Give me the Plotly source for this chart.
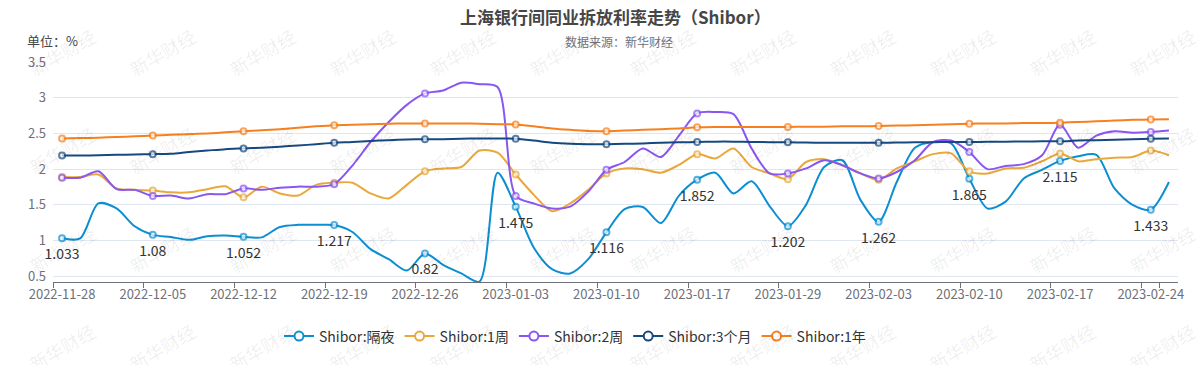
import plotly.graph_objects as go

dates = [
    "2022-11-28", "2022-11-29", "2022-11-30", "2022-12-01", "2022-12-02",
    "2022-12-05", "2022-12-06", "2022-12-07", "2022-12-08", "2022-12-09",
    "2022-12-12", "2022-12-13", "2022-12-14", "2022-12-15", "2022-12-16",
    "2022-12-19", "2022-12-20", "2022-12-21", "2022-12-22", "2022-12-23",
    "2022-12-26", "2022-12-27", "2022-12-28", "2022-12-29", "2022-12-30",
    "2023-01-03", "2023-01-04", "2023-01-05", "2023-01-06", "2023-01-09",
    "2023-01-10", "2023-01-11", "2023-01-12", "2023-01-13", "2023-01-16",
    "2023-01-17", "2023-01-18", "2023-01-19", "2023-01-20", "2023-01-28",
    "2023-01-29", "2023-01-30", "2023-01-31", "2023-02-01", "2023-02-02",
    "2023-02-03", "2023-02-06", "2023-02-07", "2023-02-08", "2023-02-09",
    "2023-02-10", "2023-02-13", "2023-02-14", "2023-02-15", "2023-02-16",
    "2023-02-17", "2023-02-20", "2023-02-21", "2023-02-22", "2023-02-23",
    "2023-02-24", "2023-02-27",
]

overnight = [
    1.033, 1.03, 1.52, 1.45, 1.20, 1.08, 1.05, 1.01, 1.06, 1.07,
    1.052, 1.045, 1.19, 1.22, 1.22, 1.217, 1.12, 0.88, 0.74, 0.58,
    0.82, 0.66, 0.54, 0.425, 1.95, 1.475, 0.90, 0.60, 0.54, 0.74,
    1.116, 1.44, 1.47, 1.245, 1.63, 1.852, 1.95, 1.66, 1.83, 1.48,
    1.202, 1.50, 2.03, 2.125, 1.57, 1.262, 1.82, 2.30, 2.38, 2.36,
    1.865, 1.45, 1.545, 1.87, 1.99, 2.115, 2.18, 2.20, 1.73, 1.50,
    1.433, 1.82,
]

week1 = [
    1.89, 1.89, 1.925, 1.73, 1.71, 1.70, 1.675, 1.675, 1.72, 1.76,
    1.605, 1.755, 1.66, 1.63, 1.78, 1.81, 1.81, 1.66, 1.59, 1.78,
    1.97, 2.01, 2.03, 2.26, 2.23, 1.925, 1.64, 1.41, 1.52, 1.71,
    1.94, 2.01, 2.00, 1.95, 2.06, 2.21, 2.15, 2.29, 2.03, 1.94,
    1.86, 2.10, 2.14, 2.055, 1.94, 1.85, 2.01, 2.11, 2.21, 2.22,
    1.97, 1.94, 2.01, 2.02, 2.11, 2.22, 2.11, 2.14, 2.16, 2.17,
    2.26, 2.195,
]

week2 = [
    1.88, 1.88, 1.97, 1.72, 1.71, 1.625, 1.63, 1.59, 1.65, 1.65,
    1.73, 1.71, 1.74, 1.755, 1.755, 1.79, 2.05, 2.38, 2.66, 2.90,
    3.06, 3.10, 3.21, 3.19, 3.15, 1.625, 1.52, 1.45, 1.475, 1.685,
    1.99, 2.10, 2.29, 2.17, 2.47, 2.78, 2.80, 2.77, 2.29, 1.94,
    1.94, 2.01, 2.125, 2.055, 1.94, 1.87, 1.96, 2.125, 2.38, 2.40,
    2.24, 2.00, 2.045, 2.07, 2.19, 2.62, 2.30, 2.47, 2.53, 2.51,
    2.52, 2.54,
]

month3 = [
    2.19, 2.19, 2.195, 2.20, 2.205, 2.21, 2.215, 2.24, 2.26, 2.28,
    2.29, 2.30, 2.315, 2.33, 2.35, 2.37, 2.38, 2.395, 2.405, 2.415,
    2.42, 2.42, 2.425, 2.43, 2.43, 2.425, 2.40, 2.37, 2.355, 2.35,
    2.35, 2.355, 2.36, 2.37, 2.375, 2.38, 2.385, 2.385, 2.38, 2.378,
    2.375, 2.372, 2.37, 2.37, 2.37, 2.37, 2.372, 2.375, 2.378, 2.38,
    2.38, 2.383, 2.385, 2.387, 2.39, 2.39, 2.40, 2.405, 2.41, 2.42,
    2.425, 2.43,
]

year1 = [
    2.43, 2.435, 2.44, 2.45, 2.46, 2.47, 2.48, 2.49, 2.50, 2.515,
    2.53, 2.545, 2.56, 2.58, 2.60, 2.615, 2.62, 2.63, 2.635, 2.64,
    2.64, 2.64, 2.64, 2.635, 2.63, 2.625, 2.60, 2.57, 2.55, 2.535,
    2.53, 2.54, 2.55, 2.56, 2.57, 2.585, 2.59, 2.59, 2.59, 2.59,
    2.59, 2.595, 2.595, 2.60, 2.60, 2.605, 2.61, 2.615, 2.62, 2.63,
    2.635, 2.64, 2.64, 2.645, 2.645, 2.65, 2.66, 2.67, 2.68, 2.69,
    2.695, 2.70,
]

series_names = ["Shibor:隔夜", "Shibor:1周", "Shibor:2周", "Shibor:3个月", "Shibor:1年"]
series_values = [overnight, week1, week2, month3, year1]
series_colors = ["#0c8fd2", "#e9a83c", "#8a56f1", "#16497f", "#f6801f"]

FONT = "Noto Sans CJK SC, Microsoft YaHei, sans-serif"
STEP = 5

# plot area in pixels
L, R, T, B = 53, 1178, 62.3, 285.7
W, H = 1196, 365


def px_x(x):
    return (x - L) / (R - L)


def px_y(y):
    return (B - y) / (B - T)


fig = go.Figure()
for name, vals, col in zip(series_names, series_values, series_colors):
    sizes = [6 if i % STEP == 0 else 0 for i in range(len(vals))]
    lw = [2 if i % STEP == 0 else 0 for i in range(len(vals))]
    fig.add_trace(go.Scatter(
        x=dates, y=vals, name=name, legendgroup=name, showlegend=False,
        mode="lines+markers",
        line=dict(color=col, width=2, shape="spline", smoothing=0.8),
        marker=dict(symbol="circle", size=sizes, color="white",
                    line=dict(color=col, width=lw)),
        cliponaxis=False,
        hoverinfo="x+y+name",
    ))
    # legend entry (no data drawn)
    fig.add_trace(go.Scatter(
        x=[None], y=[None], name=name, legendgroup=name, showlegend=True,
        mode="lines+markers",
        line=dict(color=col, width=2),
        marker=dict(symbol="circle", size=9, color="white",
                    line=dict(color=col, width=2)),
        hoverinfo="skip",
    ))

# value labels for the overnight series (every 5th point)
label_text = [(f"{v:g}" if i % STEP == 0 else "") for i, v in enumerate(overnight)]
label_size = [15 if i % STEP == 0 else 0 for i in range(len(overnight))]
fig.add_trace(go.Scatter(
    x=dates, y=overnight, mode="markers+text", showlegend=False,
    text=label_text, textposition="bottom center",
    textfont=dict(size=14, color="#333333", family=FONT),
    marker=dict(size=label_size, color="rgba(0,0,0,0)", line=dict(width=0)),
    cliponaxis=False, hoverinfo="skip",
))

annotations = []
# watermarks
for r in range(4):
    for k in range(12):
        X = 62 + 100 * k
        Y = 52 + 100 * r
        annotations.append(dict(
            x=px_x(X), y=px_y(Y), xref="paper", yref="paper",
            text="新华财经", showarrow=False, textangle=-30,
            font=dict(size=18, color="rgba(0,0,0,0.075)", family=FONT),
            xanchor="center", yanchor="middle",
        ))

annotations += [
    dict(x=0.5, y=px_y(16), xref="paper", yref="paper",
         text="<b>上海银行间同业拆放利率走势（Shibor）</b>", showarrow=False,
         font=dict(size=17, color="#464646", family=FONT),
         xanchor="center", yanchor="middle"),
    dict(x=px_x(619), y=px_y(41.5), xref="paper", yref="paper",
         text="数据来源：新华财经", showarrow=False,
         font=dict(size=12, color="#6E7079", family=FONT),
         xanchor="center", yanchor="middle"),
    dict(x=px_x(25), y=px_y(40), xref="paper", yref="paper",
         text="单位：%", showarrow=False,
         font=dict(size=13, color="#464646", family=FONT),
         xanchor="left", yanchor="middle"),
]

fig.update_layout(
    width=W, height=H,
    margin=dict(l=L, r=W - R, t=T, b=H - B),
    paper_bgcolor="white", plot_bgcolor="white",
    font=dict(family=FONT, color="#333333"),
    showlegend=True,
    legend=dict(orientation="h", x=px_x(575), y=px_y(341),
                xanchor="center", yanchor="middle",
                font=dict(size=14, color="#333333", family=FONT),
                itemwidth=30, tracegroupgap=0, bgcolor="rgba(0,0,0,0)"),
    annotations=annotations,
    xaxis=dict(
        type="category", categoryorder="array", categoryarray=dates,
        range=[-0.5, len(dates) - 0.5],
        tickmode="array", tickvals=dates[::STEP], ticktext=dates[::STEP],
        tickson="boundaries", ticks="outside", ticklen=5, tickcolor="#6E7079",
        tickangle=0, automargin=False,
        showline=True, linecolor="#6E7079", linewidth=1,
        showgrid=False, zeroline=False,
        tickfont=dict(size=13, color="#6E7079", family=FONT),
    ),
    yaxis=dict(
        range=[0.42, 3.5], tick0=0.5, dtick=0.5, tickmode="linear",
        showgrid=True, gridcolor="#E0E6F1", gridwidth=1, automargin=False,
        showline=False, zeroline=False, ticks="", ticklabelstandoff=6,
        tickfont=dict(size=13, color="#6E7079", family=FONT),
    ),
)

fig.write_html(
    "out.html",
    config={"displayModeBar": False},
    post_script="document.body.style.margin='0';document.body.style.overflow='hidden';",
)
